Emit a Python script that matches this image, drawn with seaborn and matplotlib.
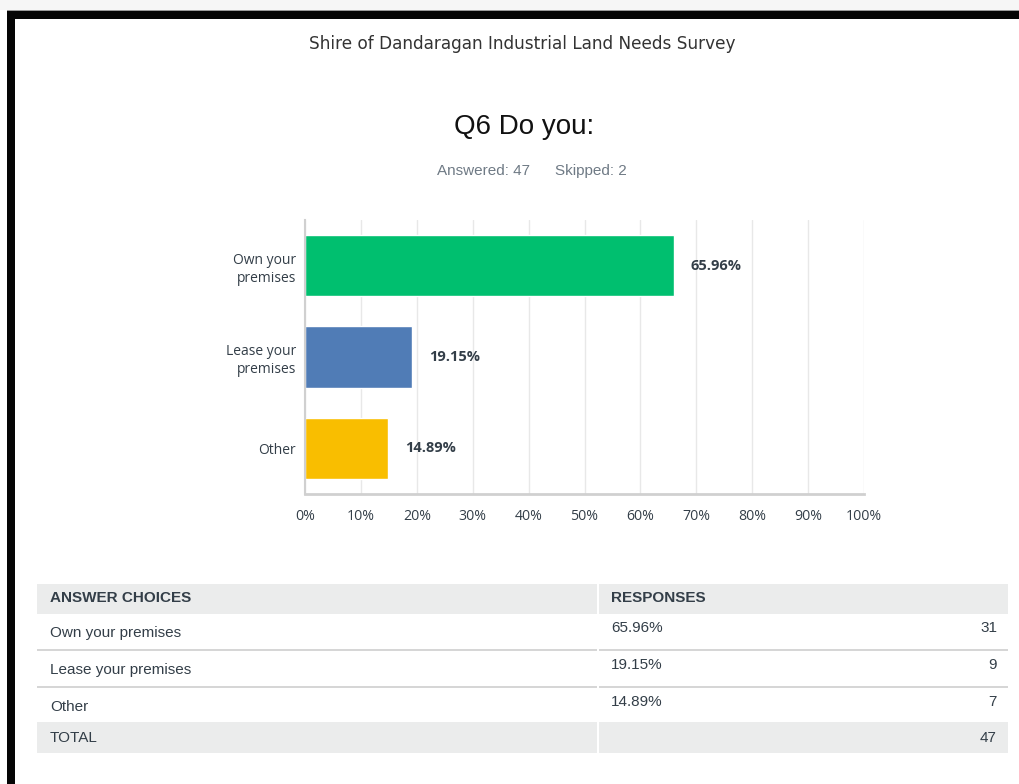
import matplotlib
matplotlib.use("Agg")
import matplotlib.pyplot as plt
from matplotlib.patches import Rectangle
import seaborn as sns
import pandas as pd

# Survey results for question 6
categories = ["Own your\npremises", "Lease your\npremises", "Other"]
choice_names = ["Own your premises", "Lease your premises", "Other"]
percentages = [65.96, 19.15, 14.89]
counts = [31, 9, 7]
total = 47
answered = 47
skipped = 2
bar_colors = ["#00BF6F", "#507CB6", "#F9BE00"]
x_ticks = [0, 10, 20, 30, 40, 50, 60, 70, 80, 90, 100]
x_tick_labels = [f"{t}%" for t in x_ticks]

sns.set_theme(style="white")
plt.rcParams["font.family"] = ["DejaVu Sans"]

W, H = 1020, 784
fig = plt.figure(figsize=(W / 100, H / 100), dpi=100)
fig.patch.set_facecolor("white")

# Full-figure overlay in pixel coordinates for frame, headings and table
ov = fig.add_axes([0, 0, 1, 1], zorder=0)
ov.set_xlim(0, W)
ov.set_ylim(H, 0)
ov.axis("off")

# page frame
ov.add_patch(Rectangle((0, 0), W, 10, color="#f6f6f6", lw=0))
ov.add_patch(Rectangle((7, 10), W, 1.2, color="#9a9a9a", lw=0))
ov.add_patch(Rectangle((7, 11), W, 7.5, color="#050505", lw=0))
ov.add_patch(Rectangle((7, 11), 8, H, color="#050505", lw=0))

ov.text(522, 44, "Shire of Dandaragan Industrial Land Needs Survey",
        ha="center", va="center", fontsize=12.2, color="#333333",
        family="DejaVu Sans")
ov.text(524, 127, "Q6 Do you:", ha="center", va="center", fontsize=20,
        color="#111111", family="Liberation Sans")
ov.text(484, 171, f"Answered: {answered}", ha="center", va="center",
        fontsize=11, color="#6f7a85", family="Liberation Sans")
ov.text(591, 171, f"Skipped: {skipped}", ha="center", va="center",
        fontsize=11, color="#6f7a85", family="Liberation Sans")

# response table
t_left, t_right, t_split = 37, 1008, 598
grey = "#EBECEC"
ov.add_patch(Rectangle((t_left, 584), t_right - t_left, 29.5, color=grey, lw=0))
ov.add_patch(Rectangle((t_left, 722), t_right - t_left, 31, color=grey, lw=0))
for y in (649, 686):
    ov.add_patch(Rectangle((t_left, y), t_right - t_left, 2.2,
                           color="#d6d6d6", lw=0))
ov.add_patch(Rectangle((t_split - 1, 584), 2, 170, color="white", lw=0))

tkw = dict(va="center", fontsize=11, color="#333e48", family="Liberation Sans")
ov.text(50, 598, "ANSWER CHOICES", fontweight="bold", **tkw)
ov.text(611, 598, "RESPONSES", fontweight="bold", **tkw)
row_y = [633, 670, 707]
for name, pct, cnt, y in zip(choice_names, percentages, counts, row_y):
    ov.text(50, y, name, **tkw)
    ov.text(611, y - 5, f"{pct:.2f}%", **tkw)
    ov.text(997, y - 5, str(cnt), ha="right", **tkw)
ov.text(50, 738, "TOTAL", **tkw)
ov.text(997, 738, str(total), ha="right", **tkw)

# bar chart
ax = fig.add_axes([305 / W, 1 - 494 / H, 559 / W, 274 / H], zorder=1)
ax.patch.set_alpha(0)
df = pd.DataFrame({"choice": categories, "pct": percentages})
sns.barplot(data=df, x="pct", y="choice", hue="choice", palette=bar_colors,
            legend=False, width=0.67, saturation=1, ax=ax, orient="h")
ax.set_xlim(0, 100)
ax.set_ylim(2.5, -0.5)
ax.set_xticks(x_ticks)
ax.set_xticklabels(x_tick_labels)
ax.set_xlabel("")
ax.set_ylabel("")
ax.xaxis.grid(True, color="#e8e8e8", lw=1)
ax.set_axisbelow(True)
for s in ("top", "right"):
    ax.spines[s].set_visible(False)
ax.spines["left"].set_color("#d0d0d0")
ax.spines["left"].set_linewidth(1.5)
ax.spines["bottom"].set_color("#d0d0d0")
ax.spines["bottom"].set_linewidth(2)
ax.tick_params(axis="x", length=0, pad=10.5, labelsize=10.2,
               labelcolor="#333e48")
ax.tick_params(axis="y", length=0, pad=6.5, labelsize=10,
               labelcolor="#333e48")
for lab in ax.get_xticklabels() + ax.get_yticklabels():
    lab.set_family("Open Sans")
for lab in ax.get_yticklabels():
    lab.set_linespacing(1.3)
    lab.set_multialignment("right")

for i, v in enumerate(percentages):
    ax.annotate(f"{v:.2f}%", xy=(v, i), xytext=(12, 0),
                textcoords="offset points", ha="left", va="center",
                fontsize=10.5, fontweight="bold", color="#333e48",
                family="Open Sans")

fig.savefig("out.png", dpi=100, facecolor="white")
